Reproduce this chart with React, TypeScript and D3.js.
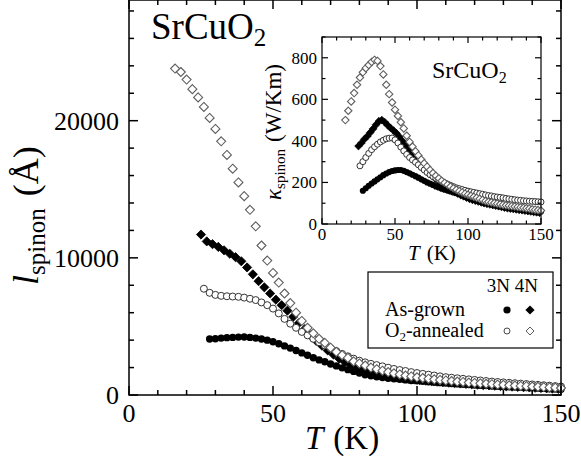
import React from "react";
import * as d3 from "d3";

// ---------- DATA ----------
const T_4N_O2 = [16,18,20,22,24,26,28,30,32,34,36,38,40,42,44,46,48,50,52,54,56,58,60,62,64,66,68,70,72,74,76,78,80,82,84,86,88,90,92,94,96,98,100,102,104,106,108,110,112,114,116,118,120,122,124,126,128,130,132,134,136,138,140,142,144,146,148,150];
const L_4N_O2 = [23800,23550,23000,22300,21700,21000,20200,19400,18500,17500,16500,15500,14500,13500,12300,10900,9800,8900,8200,7400,6700,6000,5400,4900,4500,4100,3800,3450,3150,2900,2700,2450,2300,2150,2000,1880,1770,1670,1580,1500,1420,1350,1290,1240,1190,1140,1100,1060,1020,980,950,910,880,850,820,790,760,740,710,690,660,640,620,600,580,550,530,510];
const K_4N_O2 = [500,545,590,630,670,705,730,750,765,780,790,785,760,720,670,625,585,550,520,490,460,425,395,372,350,330,310,292,276,260,245,232,220,208,198,189,180,172,165,158,152,146,141,136,131,126,121,116,111,107,104,101,98,95,92,90,88,86,84,82,80,78,76,74,71,69,67,65];

const T_3N_O2 = [26,28,30,32,34,36,38,40,42,44,46,48,50,52,54,56,58,60,62,64,66,68,70,72,74,76,78,80,82,84,86,88,90,92,94,96,98,100,102,104,106,108,110,112,114,116,118,120,122,124,126,128,130,132,134,136,138,140,142,144,146,148,150];
const L_3N_O2 = [7750,7450,7300,7230,7200,7180,7160,7100,7020,6920,6750,6550,6300,5950,5550,5200,4900,4600,4350,4100,3850,3620,3400,3200,3000,2820,2650,2500,2380,2270,2180,2090,1990,1900,1820,1750,1670,1600,1540,1480,1420,1360,1300,1260,1220,1180,1140,1100,1060,1020,980,950,920,890,860,830,800,770,740,710,680,650,620];
const K_3N_O2 = [280,300,320,340,358,372,384,395,403,410,413,414,405,390,370,352,335,320,308,297,285,272,260,248,237,228,220,212,205,198,192,186,180,174,170,166,162,158,155,152,149,146,143,140,137,135,132,130,128,126,123,121,119,117,115,114,112,111,110,109,108,107,106];

const T_4N_AG = [25,27,29,31,33,35,37,39,41,43,45,47,49,51,53,55,57,59,61,63,65,67,69,71,73,75,77,79,81,83,85,87,89,91,93,95,97,99,101,103,105,107,109,111,113,115,117,119,121,123,125,127,129,131,133,135,137,139,141,143,145,147,149];
const L_4N_AG = [11700,11200,11000,10800,10550,10300,10050,9750,9300,8800,8300,7850,7400,6950,6550,6150,5700,5250,4800,4350,3950,3600,3250,2950,2650,2400,2200,2000,1800,1650,1550,1470,1400,1340,1280,1230,1180,1130,1090,1050,1010,970,930,900,870,840,810,780,750,720,700,680,650,630,610,590,570,550,530,510,490,470,450];
const K_4N_AG = [375,390,408,422,440,458,478,495,500,490,475,462,450,437,420,400,382,364,345,328,310,293,277,262,248,235,222,210,199,189,179,170,161,153,146,139,133,127,121,116,112,108,104,100,97,94,91,88,85,82,79,76,74,72,70,68,66,64,62,60,58,56,54];

const T_3N_AG = [28,30,32,34,36,38,40,42,44,46,48,50,52,54,56,58,60,62,64,66,68,70,72,74,76,78,80,82,84,86,88,90,92,94,96,98,100,102,104,106,108,110,112,114,116,118,120,122,124,126,128,130,132,134,136,138,140,142,144,146,148,150];
const L_3N_AG = [4080,4100,4150,4180,4200,4220,4230,4200,4150,4080,4000,3880,3740,3580,3420,3240,3070,2900,2720,2560,2420,2260,2120,1980,1850,1720,1600,1480,1400,1330,1270,1220,1180,1140,1100,1060,1030,1000,960,930,900,870,840,810,780,760,730,710,690,660,640,620,600,580,560,540,520,500,480,460,440,420];
const K_3N_AG = [160,172,184,195,205,215,225,235,243,250,255,258,260,260,256,250,244,237,230,223,215,208,200,194,188,181,176,170,165,161,157,152,149,145,141,137,133,130,126,122,118,115,111,108,105,102,99,96,93,90,87,84,82,79,76,74,71,69,67,65,62,60];

const MAIN_X_TICKS = [0, 50, 100, 150];
const MAIN_Y_TICKS = [0, 10000, 20000];
const INSET_X_TICKS = [0, 50, 100, 150];
const INSET_Y_TICKS = [0, 200, 400, 600, 800];

// ---------- SCALES ----------
const xMain = d3.scaleLinear().domain([0, 150]).range([129, 561]);
const yMain = d3.scaleLinear().domain([0, 28800]).range([395, 0]);
const xIn = d3.scaleLinear().domain([0, 150]).range([322, 541]);
const yIn = d3.scaleLinear().domain([0, 900]).range([224, 37]);

const FONT = "'Liberation Serif', 'Times New Roman', serif";

const diamondPath = (cx: number, cy: number, h: number) =>
  `M${cx},${cy - h}L${cx + h},${cy}L${cx},${cy + h}L${cx - h},${cy}Z`;

type Kind = "fd" | "od" | "fc" | "oc";

function Series({ T, V, sx, sy, kind, size }: { T: number[]; V: number[]; sx: d3.ScaleLinear<number, number>; sy: d3.ScaleLinear<number, number>; kind: Kind; size: number; }) {
  return (
    <g>
      {T.map((t, i) => {
        const cx = sx(t);
        const cy = sy(V[i]);
        if (kind === "fd") return <path key={i} d={diamondPath(cx, cy, size)} fill="#000" stroke="#000" strokeWidth={0.8} />;
        if (kind === "od") return <path key={i} d={diamondPath(cx, cy, size)} fill="#fff" stroke="#5e5e5e" strokeWidth={1.1} />;
        if (kind === "fc") return <circle key={i} cx={cx} cy={cy} r={size} fill="#000" />;
        return <circle key={i} cx={cx} cy={cy} r={size} fill="#fff" stroke="#333" strokeWidth={1} />;
      })}
    </g>
  );
}

function Frame({ sx, sy, xMajor, yMajor, xMinorStep, yMinorStep, majLen, minLen, sw }: any) {
  const [x0, x1] = sx.range();
  const [y0, y1] = sy.range();
  const [dx0, dx1] = sx.domain();
  const [dy0, dy1] = sy.domain();
  const xMinor = d3.range(dx0, dx1 + 0.001, xMinorStep);
  const yMinor = d3.range(dy0, dy1 + 0.001, yMinorStep);
  const lines: any[] = [];
  xMinor.forEach((v: number, i: number) => {
    const L = xMajor.includes(v) ? majLen : minLen;
    const x = sx(v);
    lines.push(<line key={"xb" + i} x1={x} x2={x} y1={y0} y2={y0 - L} />);
    lines.push(<line key={"xt" + i} x1={x} x2={x} y1={y1} y2={y1 + L} />);
  });
  yMinor.forEach((v: number, i: number) => {
    const L = yMajor.includes(v) ? majLen : minLen;
    const y = sy(v);
    lines.push(<line key={"yl" + i} x1={x0} x2={x0 + L} y1={y} y2={y} />);
    lines.push(<line key={"yr" + i} x1={x1} x2={x1 - L} y1={y} y2={y} />);
  });
  return (
    <g stroke="#000" strokeWidth={sw} fill="none">
      <rect x={x0} y={y1} width={x1 - x0} height={y0 - y1} />
      {lines}
    </g>
  );
}

export default function App() {
  const legendRows = [
    { label: "As-grown", k3: "fc", k4: "fd", y: 310 },
    { label: "O2-annealed", k3: "oc", k4: "od", y: 331 },
  ];
  return (
    <svg width={581} height={460} style={{ position: "absolute", left: 0, top: 0, background: "#fff" }} fontFamily={FONT}>
      <rect x={0} y={0} width={581} height={460} fill="#fff" />
      {/* main series */}
      <Series T={T_3N_AG} V={L_3N_AG} sx={xMain} sy={yMain} kind="fc" size={3.7} />
      <Series T={T_4N_AG} V={L_4N_AG} sx={xMain} sy={yMain} kind="fd" size={4.6} />
      <Series T={T_3N_O2} V={L_3N_O2} sx={xMain} sy={yMain} kind="oc" size={3.5} />
      <Series T={T_4N_O2} V={L_4N_O2} sx={xMain} sy={yMain} kind="od" size={4.5} />
      <Frame sx={xMain} sy={yMain} xMajor={MAIN_X_TICKS} yMajor={MAIN_Y_TICKS} xMinorStep={10} yMinorStep={2000} majLen={9} minLen={5} sw={1.5} />

      {/* main tick labels */}
      {MAIN_X_TICKS.map((v) => (
        <text key={"mx" + v} x={xMain(v)} y={422} fontSize={26} textAnchor="middle">{v}</text>
      ))}
      {MAIN_Y_TICKS.map((v) => (
        <text key={"my" + v} x={119} y={yMain(v) + 9} fontSize={26} textAnchor="end">{v}</text>
      ))}
      {/* main axis labels */}
      <text x={305} y={449} fontSize={33}>
        <tspan fontStyle="italic">T</tspan>
        <tspan dx={10}>(K)</tspan>
      </text>
      <text transform="translate(38,285) rotate(-90)" fontSize={36}>
        <tspan fontStyle="italic">l</tspan>
        <tspan fontSize={25} dy={7}>spinon</tspan>
        <tspan dy={-7} dx={12}>(Å)</tspan>
      </text>
      <text x={151} y={39} fontSize={37}>
        SrCuO<tspan fontSize={25} dy={7}>2</tspan>
      </text>

      {/* inset */}
      <rect x={322} y={37} width={219} height={187} fill="#fff" />
      <Series T={T_3N_AG} V={K_3N_AG} sx={xIn} sy={yIn} kind="fc" size={3.1} />
      <Series T={T_4N_AG} V={K_4N_AG} sx={xIn} sy={yIn} kind="fd" size={3.8} />
      <Series T={T_3N_O2} V={K_3N_O2} sx={xIn} sy={yIn} kind="oc" size={3} />
      <Series T={T_4N_O2} V={K_4N_O2} sx={xIn} sy={yIn} kind="od" size={3.7} />
      <Frame sx={xIn} sy={yIn} xMajor={INSET_X_TICKS} yMajor={INSET_Y_TICKS} xMinorStep={10} yMinorStep={100} majLen={6} minLen={3.5} sw={1.2} />
      {INSET_X_TICKS.map((v) => (
        <text key={"ix" + v} x={xIn(v)} y={240} fontSize={17} textAnchor="middle">{v}</text>
      ))}
      {INSET_Y_TICKS.map((v) => (
        <text key={"iy" + v} x={317} y={yIn(v) + 6} fontSize={17} textAnchor="end">{v}</text>
      ))}
      <text x={408} y={260} fontSize={21}>
        <tspan fontStyle="italic">T</tspan>
        <tspan dx={7}>(K)</tspan>
      </text>
      <text transform="translate(281,200) rotate(-90)" fontSize={23}>
        <tspan fontStyle="italic">κ</tspan>
        <tspan fontSize={15} dy={4}>spinon</tspan>
        <tspan dy={-4} dx={7}>(W/Km)</tspan>
      </text>
      <text x={432} y={78} fontSize={24}>
        SrCuO<tspan fontSize={16} dy={5}>2</tspan>
      </text>

      {/* legend */}
      <rect x={368} y={272} width={185} height={76} fill="#fff" stroke="#000" strokeWidth={1.2} />
      <text x={538} y={292} fontSize={19} textAnchor="end">3N 4N</text>
      {legendRows.map((r) => (
        <g key={r.label}>
          <text x={385} y={r.y + 6} fontSize={20}>
            {r.label.startsWith("O2") ? (
              <>O<tspan fontSize={13} dy={4}>2</tspan><tspan dy={-4}>-annealed</tspan></>
            ) : r.label}
          </text>
          {r.k3 === "fc" ? (
            <circle cx={507} cy={r.y} r={3.6} fill="#000" />
          ) : (
            <circle cx={507} cy={r.y} r={3} fill="#fff" stroke="#333" strokeWidth={0.9} />
          )}
          {r.k4 === "fd" ? (
            <path d={diamondPath(530, r.y, 4.6)} fill="#000" />
          ) : (
            <path d={diamondPath(530, r.y, 4)} fill="#fff" stroke="#5e5e5e" strokeWidth={1} />
          )}
        </g>
      ))}
    </svg>
  );
}
